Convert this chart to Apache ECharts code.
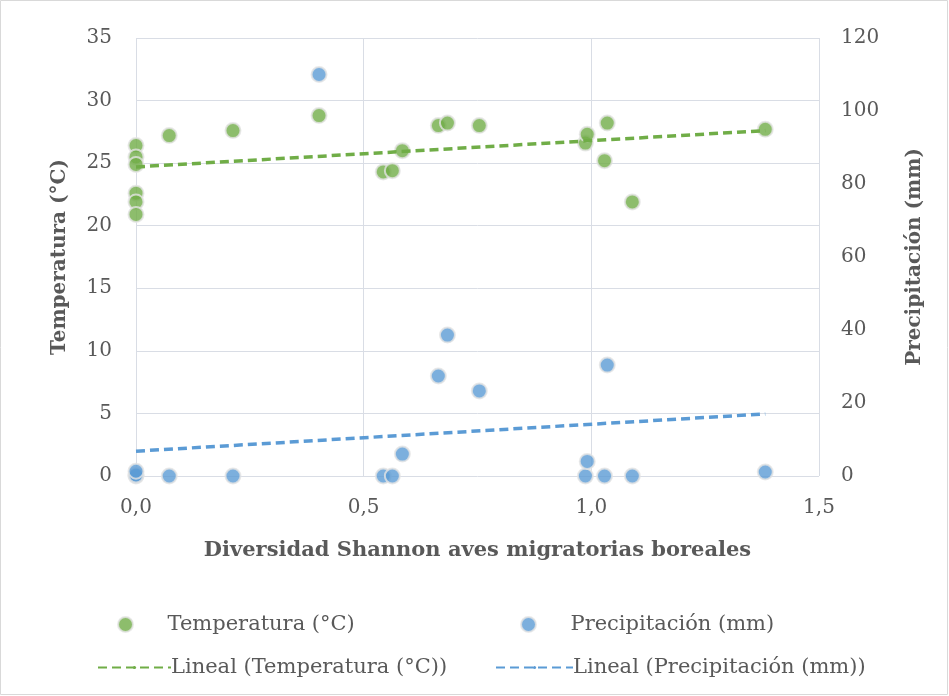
<!DOCTYPE html>
<html><head><meta charset="utf-8">
<script src="https://cdn.jsdelivr.net/npm/echarts@6/dist/echarts.min.js"></script>
<style>html,body{margin:0;background:#fff}#c{width:949px;height:696px}</style>
</head><body><div id="c"></div>
<script>
var shannon = [0,0,0,0,0,0,0.073,0.213,0.402,0.543,0.563,0.585,0.664,0.684,0.754,0.987,0.991,1.029,1.035,1.09,1.382];
var temperatura = [26.4,25.5,24.9,22.6,21.9,20.9,27.2,27.6,28.8,24.3,24.4,26.0,28.0,28.2,28.0,26.6,27.3,25.2,28.2,21.9,27.7];
var shannonP = [0,0,0,0.073,0.213,0.402,0.543,0.563,0.585,0.664,0.684,0.754,0.987,0.991,1.029,1.035,1.09,1.382];
var precipitacion = [0,0.3,1.3,0,0,110,0,0,6,27.4,38.6,23.3,0,4,0,30.4,0,1.1];
// trend line end points
var trendX = [0,1.382];
var trendTemp = [24.7,27.6];
var trendPrecip = [6.8,17.0];

var font = 'DejaVu Serif';
var green='#70ad47', blue='#5b9bd5', grey='#595959';
function pairs(xs,ys){return xs.map(function(x,i){return [x,ys[i]];});}
var chart = echarts.init(document.getElementById('c'));
var sym = {borderColor:'#e4e4e4',borderWidth:2};
var lt = {fontFamily:font,fontSize:21,color:grey};
chart.setOption({
    animation:false,
    textStyle:{fontFamily:font},
    graphic:[{type:'rect',shape:{x:0.5,y:0.5,width:947,height:694},style:{fill:'none',stroke:'#d9d9d9'}}],
    grid:{left:136,right:130,top:38,bottom:220},
    legend:[
        {left:112,top:609,itemWidth:30,itemHeight:15,textStyle:Object.assign({padding:[0,0,0,22]},lt),data:['Temperatura (°C)']},
        {left:515,top:609,itemWidth:30,itemHeight:15,textStyle:Object.assign({padding:[0,0,0,22]},lt),data:['Precipitación (mm)']},
        {left:92,top:652,itemWidth:73,itemHeight:4,textStyle:Object.assign({padding:[0,0,0,-5]},lt),data:['Lineal (Temperatura (°C))']},
        {left:490,top:652,itemWidth:77,itemHeight:4,textStyle:Object.assign({padding:[0,0,0,-5]},lt),data:['Lineal (Precipitación (mm))']}
    ],
    xAxis:{type:'value',min:0,max:1.5,interval:0.5,
        name:'Diversidad Shannon aves migratorias boreales',nameLocation:'middle',nameGap:64,
        nameTextStyle:{fontFamily:font,fontSize:21,fontWeight:'bold',color:grey},
        axisLine:{show:false},axisTick:{show:false},
        axisLabel:{fontSize:20,color:grey,margin:22,formatter:function(v){return v.toFixed(1).replace('.',',');}},
        splitLine:{lineStyle:{color:'#d9dde5'}}},
    yAxis:[
        {type:'value',min:0,max:35,interval:5,name:'Temperatura (°C)',nameLocation:'middle',nameGap:66,
         nameTextStyle:{fontFamily:font,fontSize:20,fontWeight:'bold',color:grey},
         axisLine:{show:false},axisTick:{show:false},axisLabel:{fontSize:20,color:grey,margin:24},
         splitLine:{lineStyle:{color:'#d9dde5'}}},
        {type:'value',min:0,max:120,interval:20,name:'Precipitación (mm)',nameLocation:'middle',nameGap:86,
         nameTextStyle:{fontFamily:font,fontSize:20,fontWeight:'bold',color:grey},
         axisLine:{show:false},axisTick:{show:false},axisLabel:{fontSize:20,color:grey,margin:22},
         splitLine:{show:false}}
    ],
    series:[
        {name:'Temperatura (°C)',type:'scatter',symbolSize:15,data:pairs(shannon,temperatura),
         itemStyle:Object.assign({color:green},sym),z:3},
        {name:'Precipitación (mm)',type:'scatter',yAxisIndex:1,symbolSize:15,data:pairs(shannonP,precipitacion),
         itemStyle:Object.assign({color:blue},sym),z:3},
        {name:'Lineal (Temperatura (°C))',type:'line',symbol:'none',data:pairs(trendX,trendTemp),
         lineStyle:{color:green,width:3.5,type:[9,5]},itemStyle:{color:green},z:4},
        {name:'Lineal (Precipitación (mm))',type:'line',yAxisIndex:1,symbol:'none',data:pairs(trendX,trendPrecip),
         lineStyle:{color:blue,width:3.5,type:[9,5]},itemStyle:{color:blue},z:4}
    ]
});
</script></body></html>
